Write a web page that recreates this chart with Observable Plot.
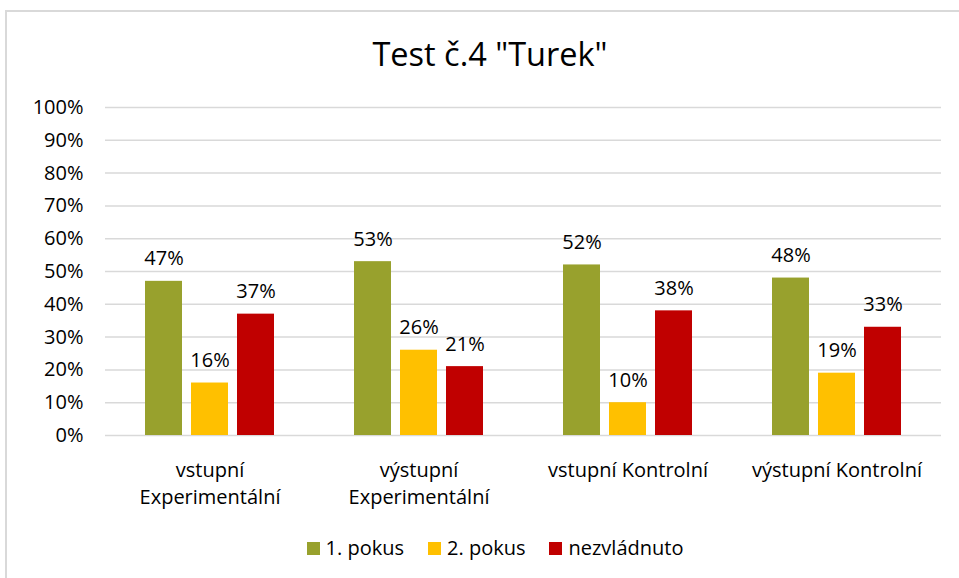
<!DOCTYPE html>
<html>
<head>
<meta charset="utf-8">
<script src="https://cdn.jsdelivr.net/npm/d3@7"></script>
<script src="https://cdn.jsdelivr.net/npm/@observablehq/plot@0.6"></script>
<style>
  html, body { margin: 0; padding: 0; background: #fff; }
  #wrap { position: relative; width: 959px; height: 578px; overflow: hidden; font-family: "Open Sans", sans-serif; color: #000; }
  #frame { position: absolute; left: 5px; top: 10px; width: 1000px; height: 600px; border: 2px solid #d9d9d9; box-sizing: border-box; }
  #title { position: absolute; left: 0; width: 980px; top: 33px; text-align: center; font-size: 32.5px; line-height: 42px; }
  #chart { position: absolute; left: 0; top: 0; }
  #legend { position: absolute; top: 534px; left: 0; width: 990px; display: flex; justify-content: center; font-size: 20px; line-height: 28px; }
  .item { display: flex; align-items: center; margin: 0 12px; }
  .sw { width: 13px; height: 13px; margin-right: 6px; }
</style>
</head>
<body>
<div id="wrap">
  <div id="frame"></div>
  <div id="title">Test č.4 "Turek"</div>
  <div id="chart"></div>
  <div id="legend"></div>
</div>
<script>
const categories = ["vstupní Experimentální", "výstupní Experimentální", "vstupní Kontrolní", "výstupní Kontrolní"];
const tickLabels = ["vstupní\nExperimentální", "výstupní\nExperimentální", "vstupní Kontrolní", "výstupní Kontrolní"];
const seriesNames = ["1. pokus", "2. pokus", "nezvládnuto"];
const seriesColors = ["#98a12d", "#ffc000", "#c00000"];
const pokus1 = [0.47, 0.53, 0.52, 0.48];
const pokus2 = [0.16, 0.26, 0.10, 0.19];
const nezvladnuto = [0.37, 0.21, 0.38, 0.33];
const yTicks = [0, 0.1, 0.2, 0.3, 0.4, 0.5, 0.6, 0.7, 0.8, 0.9, 1.0];

const seriesValues = [pokus1, pokus2, nezvladnuto];
const data = [];
categories.forEach((c, i) => {
  seriesNames.forEach((s, j) => {
    data.push({category: c, series: s, value: seriesValues[j][i]});
  });
});

const fmt = d3.format(".0%");

const chart = Plot.plot({
  width: 959,
  height: 520,
  marginTop: 107,
  marginBottom: 85,
  marginLeft: 104,
  marginRight: 17,
  style: {fontFamily: "Open Sans, sans-serif", fontSize: "20px", color: "#000", background: "transparent"},
  fx: {domain: categories, padding: 0, label: null, axis: null},
  x: {domain: seriesNames, paddingInner: 0.2, paddingOuter: 0.862, axis: null},
  y: {domain: [0, 1], ticks: yTicks, tickFormat: fmt, label: null, axis: null},
  color: {domain: seriesNames, range: seriesColors},
  marks: [
    Plot.ruleY(yTicks, {stroke: "#d9d9d9", strokeWidth: 1.5}),
    Plot.barY(data, {fx: "category", x: "series", y: "value", fill: "series"}),
    Plot.text(data, {fx: "category", x: "series", y: "value", text: d => fmt(d.value), dy: -16, lineAnchor: "bottom", fontSize: 20, fill: "#000"}),
    Plot.axisY({ticks: yTicks, tickFormat: fmt, tickSize: 0, tickPadding: 22, label: null, fontSize: 20}),
    Plot.axisFx({anchor: "bottom", tickFormat: d => tickLabels[categories.indexOf(d)], tickSize: 0, tickPadding: 22, label: null, fontSize: 20, lineHeight: 1.35})
  ]
});
document.getElementById("chart").appendChild(chart);

const legend = document.getElementById("legend");
seriesNames.forEach((s, i) => {
  const it = document.createElement("div");
  it.className = "item";
  it.innerHTML = `<span class="sw" style="background:${seriesColors[i]}"></span><span>${s}</span>`;
  legend.appendChild(it);
});
</script>
</body>
</html>
